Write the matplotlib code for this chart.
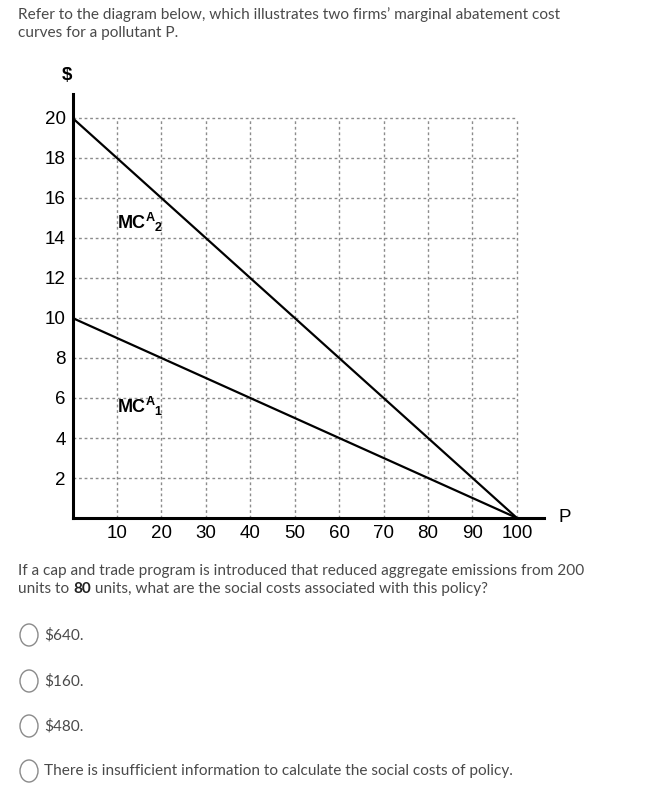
import matplotlib.pyplot as plt
from matplotlib.patches import Circle

# data
x_ticks = [10, 20, 30, 40, 50, 60, 70, 80, 90, 100]
y_ticks = [2, 4, 6, 8, 10, 12, 14, 16, 18, 20]
mca2_x = [0, 100]
mca2_y = [20, 0]
mca1_x = [0, 100]
mca1_y = [10, 0]
intro = ["Refer to the diagram below, which illustrates two firms\u2019 marginal abatement cost",
         "curves for a pollutant P."]
options = ["$640.", "$160.", "$480.",
           "There is insufficient information to calculate the social costs of policy."]

plt.rcParams['mathtext.fontset'] = 'custom'
plt.rcParams['mathtext.bf'] = 'Liberation Sans:bold'
plt.rcParams['mathtext.rm'] = 'Liberation Sans:bold'

W, H = 658, 805
fig = plt.figure(figsize=(W / 100, H / 100), dpi=100)

def fx(px):
    return px / W

def fy(py):
    return 1 - py / H

txt_col = "#4a4a4a"
qfont = dict(family="Lato", fontsize=11.05, color=txt_col, va="center", ha="left")

# question text
for i, line in enumerate(intro):
    fig.text(fx(18), fy(15 + i * 18), line, **qfont)

fig.text(fx(18), fy(571), "If a cap and trade program is introduced that reduced aggregate emissions from 200", **qfont)
t1 = fig.text(fx(18), fy(589), "units to ", **qfont)
fig.canvas.draw()
bb = t1.get_window_extent()
t2 = fig.text(bb.x1 / W, fy(589), "80", fontweight="bold", **{k: v for k, v in qfont.items() if k != "color"}, color="#222222")
fig.canvas.draw()
bb2 = t2.get_window_extent()
fig.text(bb2.x1 / W, fy(589), " units, what are the social costs associated with this policy?", **qfont)

for i, opt in enumerate(options):
    yy = [635, 681, 726, 771][i]
    fig.patches.append(Circle((fx(29), fy(yy)), 9 / W, transform=fig.transFigure,
                              facecolor="white", edgecolor="#8a8a8a", linewidth=1.0))
    fig.text(fx(44), fy(yy), opt, **qfont)

# chart
x0, x1 = 72.5, 543.6
y0, y1 = 518, 94
ax = fig.add_axes([fx(x0), fy(y0), (x1 - x0) / W, (y0 - y1) / H])
ax.set_xlim(0, 106)
ax.set_ylim(0, 21.2)

ax.hlines(y_ticks, 0, 100, colors="#8c8c8c", linestyles=(0, (2, 2)), linewidth=1)
ax.vlines(x_ticks, 0, 20, colors="#8c8c8c", linestyles=(0, (2, 2)), linewidth=1)

ax.plot(mca2_x, mca2_y, color="black", linewidth=1.6, solid_capstyle="butt")
ax.plot(mca1_x, mca1_y, color="black", linewidth=1.6, solid_capstyle="butt")

for s in ["top", "right"]:
    ax.spines[s].set_visible(False)
for s in ["left", "bottom"]:
    ax.spines[s].set_linewidth(2.2)
ax.set_xticks(x_ticks)
ax.set_yticks(y_ticks)
ax.tick_params(length=0, labelsize=13.5, pad=5)
for lab in ax.get_xticklabels() + ax.get_yticklabels():
    lab.set_family("Liberation Sans")
ax.patch.set_alpha(0)

ax.text(10, 14.8, r"$\mathbf{MC^{A}{}_{2}}$", fontsize=13, ha="left", va="center")
ax.text(10, 5.6, r"$\mathbf{MC^{A}{}_{1}}$", fontsize=13, ha="left", va="center")

fig.text(fx(67), fy(75), "$", family="Liberation Sans", fontweight="bold", fontsize=13.5, ha="center", va="center")
fig.text(fx(565), fy(517), "P", family="Liberation Sans", fontsize=13.5, ha="center", va="center")

fig.savefig("out.png", dpi=100, facecolor="white")
